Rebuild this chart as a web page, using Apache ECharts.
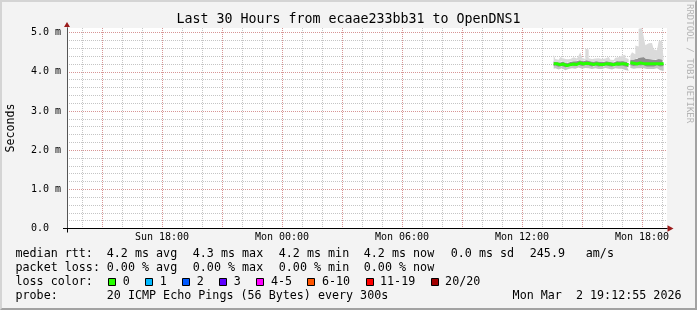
<!DOCTYPE html>
<html><head><meta charset="utf-8">
<script src="https://cdn.jsdelivr.net/npm/echarts@6/dist/echarts.min.js"></script>
<style>
html,body{margin:0;padding:0;background:#f3f3f3;}
#wrap{position:relative;width:697px;height:310px;overflow:hidden;}
#chart{position:absolute;left:0;top:0;width:697px;height:310px;}
#frame{position:absolute;left:0;top:0;width:697px;height:310px;box-sizing:border-box;border-top:2px solid #d4d4d4;border-left:2px solid #d4d4d4;border-right:2px solid #a2a2a2;border-bottom:2px solid #a2a2a2;pointer-events:none;}
</style></head>
<body><div id="wrap"><div id="chart"></div><div id="frame"></div></div>
<script>
const chartTitle = 'Last 30 Hours from ecaae233bb31 to OpenDNS1';
const xRange = ['Sun 13:15', 'Mon 19:15'];
const xTickLabels = ['Sun 18:00', 'Mon 00:00', 'Mon 06:00', 'Mon 12:00', 'Mon 18:00'];
const yTickValues = [0, 1, 2, 3, 4, 5];
const yMax = 5.12;

const times = [
 'Mon 13:35','Mon 13:40','Mon 13:45','Mon 13:50','Mon 13:55',
 'Mon 14:00','Mon 14:05','Mon 14:10','Mon 14:15','Mon 14:20','Mon 14:25','Mon 14:30','Mon 14:35','Mon 14:40','Mon 14:45','Mon 14:50','Mon 14:55',
 'Mon 15:00','Mon 15:05','Mon 15:10','Mon 15:15','Mon 15:20','Mon 15:25','Mon 15:30','Mon 15:35','Mon 15:40','Mon 15:45','Mon 15:50','Mon 15:55',
 'Mon 16:00','Mon 16:05','Mon 16:10','Mon 16:15','Mon 16:20','Mon 16:25','Mon 16:30','Mon 16:35','Mon 16:40','Mon 16:45','Mon 16:50','Mon 16:55',
 'Mon 17:00','Mon 17:05','Mon 17:10','Mon 17:15','Mon 17:20','Mon 17:25','Mon 17:30','Mon 17:35','Mon 17:40','Mon 17:45','Mon 17:50','Mon 17:55',
 'Mon 18:00','Mon 18:05','Mon 18:10','Mon 18:15','Mon 18:20','Mon 18:25','Mon 18:30','Mon 18:35','Mon 18:40','Mon 18:45','Mon 18:50','Mon 18:55',
 'Mon 19:00','Mon 19:05'
];
const medianRtt = [
 4.21,4.20,4.21,4.19,4.18,4.19,4.20,4.17,4.16,4.17,
 4.18,4.19,4.20,4.18,4.19,4.22,4.23,4.21,4.20,4.19,
 4.22,4.23,4.21,4.20,4.19,4.20,4.21,4.20,4.19,4.18,
 4.19,4.20,4.21,4.22,4.20,4.19,4.18,4.19,4.21,4.22,
 4.20,4.19,4.21,4.20,4.19,4.18,null,4.23,4.22,4.21,
 4.20,4.22,4.23,4.22,4.21,4.22,4.21,4.20,4.21,4.20,
 4.21,4.20,4.21,4.22,4.21,4.20,4.21
];
const pingLow = [
 4.10,4.08,4.09,4.07,4.06,4.08,4.09,4.05,4.04,4.06,
 4.07,4.08,4.09,4.07,4.08,4.10,4.11,4.09,4.08,4.07,
 4.10,4.11,4.09,4.08,4.07,4.08,4.09,4.08,4.07,4.06,
 4.07,4.08,4.10,4.10,4.08,4.07,4.06,4.07,4.09,4.10,
 4.08,4.06,4.08,4.07,4.05,4.03,null,4.10,4.09,4.08,
 4.07,4.09,4.10,4.09,4.08,4.09,4.08,4.07,4.08,4.07,
 4.08,4.07,4.08,4.09,4.06,4.04,4.03
];
const pingQ1 = [
 4.16,4.15,4.16,4.14,4.13,4.14,4.15,4.13,4.12,4.13,
 4.14,4.15,4.16,4.14,4.15,4.17,4.18,4.16,4.15,4.14,
 4.17,4.18,4.16,4.15,4.14,4.15,4.16,4.15,4.14,4.13,
 4.14,4.15,4.16,4.17,4.15,4.14,4.13,4.14,4.16,4.17,
 4.15,4.14,4.16,4.15,4.14,4.12,null,4.17,4.16,4.15,
 4.15,4.16,4.17,4.16,4.15,4.16,4.15,4.14,4.15,4.14,
 4.15,4.14,4.15,4.16,4.15,4.14,4.15
];
const pingQ3 = [
 4.27,4.26,4.25,4.25,4.24,4.26,4.27,4.23,4.22,4.24,
 4.25,4.25,4.27,4.26,4.27,4.29,4.30,4.28,4.27,4.26,
 4.30,4.31,4.28,4.27,4.26,4.26,4.28,4.27,4.26,4.25,
 4.25,4.27,4.28,4.28,4.26,4.25,4.24,4.26,4.28,4.29,
 4.27,4.26,4.28,4.27,4.26,4.25,null,4.31,4.32,4.30,
 4.33,4.35,4.38,4.36,4.40,4.37,4.34,4.33,4.35,4.32,
 4.31,4.30,4.32,4.33,4.31,4.32,4.30
];
const pingHigh = [
 4.44,4.42,4.33,4.31,4.35,4.38,4.34,4.30,4.32,4.36,
 4.33,4.31,4.37,4.40,4.34,4.38,4.42,4.50,4.36,4.33,
 4.59,4.57,4.35,4.33,4.32,4.34,4.36,4.35,4.37,4.33,
 4.31,4.34,4.36,4.38,4.33,4.31,4.30,4.34,4.36,4.37,
 4.40,4.42,4.38,4.44,4.36,4.33,null,4.42,4.50,4.45,
 4.67,4.65,5.10,5.12,5.11,4.90,4.68,4.73,4.72,4.74,
 4.70,4.58,4.55,4.52,4.78,4.80,4.79
];

const statLabels = ['median rtt:', 'packet loss:', 'loss color:', 'probe:'];
const rttStats = ['4.2 ms avg', '4.3 ms max', '4.2 ms min', '4.2 ms now', '0.0 ms sd', '245.9', 'am/s'];
const lossStats = ['0.00 % avg', '0.00 % max', '0.00 % min', '0.00 % now'];
const lossLabels = ['0', '1', '2', '3', '4-5', '6-10', '11-19', '20/20'];
const lossColors = ['#26ff00', '#00b8ff', '#0059ff', '#5e00ff', '#ff00ff', '#ff5500', '#ff0000', '#a10000'];
const probeText = '20 ICMP Echo Pings (56 Bytes) every 300s';
const stampText = 'Mon Mar  2 19:12:55 2026';

// ---- helpers ----
function toHours(s) {
  const parts = s.split(' ');
  const hm = parts[1].split(':').map(Number);
  return (parts[0] === 'Mon' ? 24 : 0) + hm[0] + hm[1] / 60;
}
const xMin = toHours(xRange[0]);
const xMax = toHours(xRange[1]);
const xs = times.map(toHours);
// value first, time second (encode maps them), so stacking happens on the value dimension
const pair = arr => xs.map((x, i) => [arr[i], x]);
const diff = (a, b) => a.map((v, i) => (v == null || b[i] == null) ? null : +(v - b[i]).toFixed(4));

const xMinor = [];
for (let h = Math.ceil(xMin); h < xMax; h++) xMinor.push(h);
const xMajor = xMinor.filter(h => h % 3 === 0);
const xLabelVals = xTickLabels.map(toHours);
const xLabelMap = {};
xTickLabels.forEach((l, i) => { xLabelMap[xLabelVals[i].toFixed(3)] = l; });
const yMinor = [];
for (let k = 1; k * 0.2 <= 5.0001; k++) yMinor.push(+(k * 0.2).toFixed(1));

const MONO = '"DejaVu Sans Mono", monospace';
const font = s => s + 'px ' + MONO;
const gridGray = { color: 'rgba(150,150,150,0.55)', width: 1, type: [1, 1] };
const gridRed = { color: 'rgba(230,110,110,0.55)', width: 1, type: [1, 1] };

const chart = echarts.init(document.getElementById('chart'), null, { renderer: 'canvas' });

const graphic = [];
graphic.push({ type: 'text', x: 348.5, y: 19.5, style: { text: chartTitle, font: font(13.3), fill: '#000', align: 'center', verticalAlign: 'middle' } });
graphic.push({ type: 'text', x: 10.5, y: 128, rotation: Math.PI / 2, style: { text: 'Seconds', font: font(11.6), fill: '#000', align: 'center', verticalAlign: 'middle' } });
graphic.push({ type: 'text', x: 689, y: 4, rotation: -Math.PI / 2, style: { text: 'RRDTOOL / TOBI OETIKER', font: font(9), fill: '#b4b4b4', align: 'left', verticalAlign: 'middle' } });

const rowY = [254, 268, 282, 296];
const labelX = 15.5;
statLabels.forEach((t, i) => graphic.push({ type: 'text', x: labelX, y: rowY[i], style: { text: t, font: font(11.7), fill: '#000', align: 'left', verticalAlign: 'middle' } }));
const rttCols = [106.8, 192.8, 278.8, 363.8, 450.8, 529.8, 585.8];
rttStats.forEach((t, i) => graphic.push({ type: 'text', x: rttCols[i], y: rowY[0], style: { text: t, font: font(11.7), fill: '#000', align: 'left', verticalAlign: 'middle' } }));
lossStats.forEach((t, i) => graphic.push({ type: 'text', x: rttCols[i], y: rowY[1], style: { text: t, font: font(11.7), fill: '#000', align: 'left', verticalAlign: 'middle' } }));
let bx = 108.3;
lossLabels.forEach((t, i) => {
  graphic.push({ type: 'rect', shape: { x: Math.round(bx) + 0.5, y: 278.5, width: 7, height: 7 }, style: { fill: lossColors[i], stroke: '#000', lineWidth: 1 } });
  graphic.push({ type: 'text', x: bx + 14.5, y: rowY[2], style: { text: t, font: font(11.7), fill: '#000', align: 'left', verticalAlign: 'middle' } });
  bx = bx + 15 + t.length * 7.02 + 15;
});
graphic.push({ type: 'text', x: rttCols[0], y: rowY[3], style: { text: probeText, font: font(11.7), fill: '#000', align: 'left', verticalAlign: 'middle' } });
graphic.push({ type: 'text', x: 681.5, y: rowY[3], style: { text: stampText, font: font(11.7), fill: '#000', align: 'right', verticalAlign: 'middle' } });

const baseX = { type: 'value', min: xMin, max: xMax, position: 'bottom', offset: 0 };
const baseY = { type: 'value', min: 0, max: yMax, position: 'left', offset: 0 };
const smokeBase = { type: 'line', xAxisIndex: 1, yAxisIndex: 1, stack: 'smoke', step: 'start', symbol: 'none', silent: true, lineStyle: { width: 0 }, connectNulls: false, encode: { x: 1, y: 0 } };

chart.setOption({
  animation: false,
  backgroundColor: '#f3f3f3',
  grid: { left: 67, right: 30, top: 28, bottom: 81.5, show: true, backgroundColor: '#ffffff', borderWidth: 0, containLabel: false },
  xAxis: [
    Object.assign({}, baseX, {
      z: 1,
      axisLine: { show: true, onZero: false, lineStyle: { color: '#9b1b1b', width: 1 }, symbol: ['none', 'triangle'], symbolSize: [6.5, 6], symbolOffset: [0, 3.5] },
      axisTick: { show: false, customValues: xMinor },
      axisLabel: { show: false },
      splitLine: { show: true, lineStyle: gridGray }
    }),
    Object.assign({}, baseX, {
      z: 2,
      axisLine: { show: true, onZero: false, lineStyle: { color: '#000', width: 1 } },
      axisTick: { show: false, customValues: xMajor },
      axisLabel: { show: true, customValues: xLabelVals, margin: 4, fontFamily: MONO, fontSize: 10, color: '#000', formatter: v => xLabelMap[v.toFixed(3)] || '' },
      splitLine: { show: true, lineStyle: gridRed }
    }),
    Object.assign({}, baseX, {
      z: 3,
      axisLine: { show: false },
      axisTick: { show: true, customValues: [xMin], length: 4, lineStyle: { color: '#000' } },
      axisLabel: { show: false },
      splitLine: { show: false }
    })
  ],
  yAxis: [
    Object.assign({}, baseY, {
      z: 1,
      axisLine: { show: true, onZero: false, lineStyle: { color: '#9b1b1b', width: 1 }, symbol: ['none', 'triangle'], symbolSize: [6, 5], symbolOffset: [0, 3.5] },
      axisTick: { show: false, customValues: yMinor },
      axisLabel: { show: false },
      splitLine: { show: true, lineStyle: gridGray }
    }),
    Object.assign({}, baseY, {
      z: 2,
      axisLine: { show: true, onZero: false, lineStyle: { color: '#555', width: 1 } },
      axisTick: { show: false, customValues: yTickValues },
      axisLabel: { show: true, customValues: yTickValues, margin: 6, fontFamily: MONO, fontSize: 10, color: '#000', formatter: v => v === 0 ? '0.0  ' : v.toFixed(1) + ' m' },
      splitLine: { show: true, lineStyle: gridRed }
    }),
    Object.assign({}, baseY, {
      z: 3,
      axisLine: { show: false },
      axisTick: { show: true, customValues: [0], length: 4, lineStyle: { color: '#000' } },
      axisLabel: { show: false },
      splitLine: { show: false }
    })
  ],
  series: [
    Object.assign({}, smokeBase, { name: 'low', areaStyle: { opacity: 0 }, data: pair(pingLow) }),
    Object.assign({}, smokeBase, { name: 'lower', areaStyle: { color: '#c4c4c4', opacity: 1 }, data: pair(diff(pingQ1, pingLow)) }),
    Object.assign({}, smokeBase, { name: 'core', areaStyle: { color: '#8e8e8e', opacity: 1 }, data: pair(diff(pingQ3, pingQ1)) }),
    Object.assign({}, smokeBase, { name: 'upper', areaStyle: { color: '#dadada', opacity: 1 }, data: pair(diff(pingHigh, pingQ3)) }),
    { type: 'line', name: 'median rtt', xAxisIndex: 1, yAxisIndex: 1, step: 'start', symbol: 'none', silent: true, connectNulls: false, z: 5, encode: { x: 1, y: 0 }, lineStyle: { color: '#26ff00', width: 3 }, data: pair(medianRtt) }
  ],
  graphic: graphic
});
</script>
</body></html>
